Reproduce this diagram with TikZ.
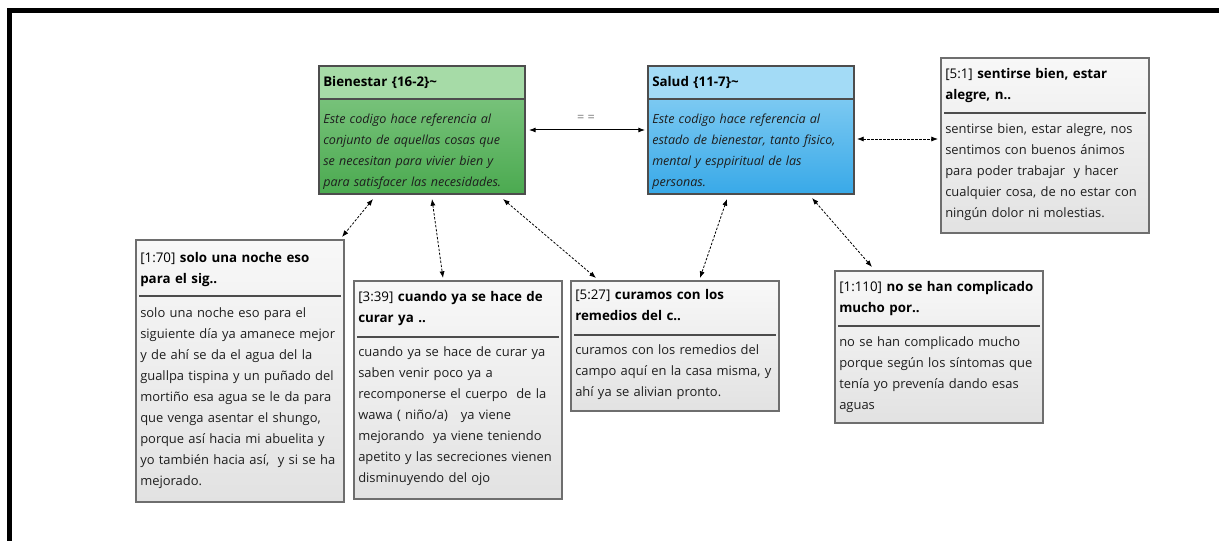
\documentclass[tikz,border=0pt]{standalone}
\usepackage{fontspec}
\setmainfont{Open Sans}
\usetikzlibrary{arrows.meta,calc,fit}
\definecolor{greenhead}{HTML}{A6DBA7}
\definecolor{greentop}{HTML}{86CA88}
\definecolor{greenbot}{HTML}{4BAA50}
\definecolor{bluehead}{HTML}{A3DBF6}
\definecolor{bluetop}{HTML}{93D4F5}
\definecolor{bluebot}{HTML}{38A9E8}
\definecolor{codeborder}{HTML}{4D4D4D}
\definecolor{quoteborder}{HTML}{6E6E6E}
\definecolor{quotetop}{HTML}{F8F8F8}
\definecolor{quotebot}{HTML}{E2E2E2}
\definecolor{textdark}{HTML}{1E1E1E}
\definecolor{eqgray}{HTML}{7A7A7A}
\tikzset{
  boxframe/.style={inner sep=0pt, outer sep=0pt},
  codeline/.style={draw=codeborder, line width=1.1pt},
  quoteline/.style={draw=quoteborder, line width=1.5pt},
  divline/.style={draw=black!70, line width=1.1pt},
  headtext/.style={anchor=north west, inner sep=0pt, align=left, text width=200pt,
    font=\fontsize{10}{15.75}\selectfont\bfseries, text=black},
  bodytext/.style={anchor=north west, inner sep=0pt, align=left, text width=200pt,
    font=\fontsize{9.7}{15.75}\selectfont, text=textdark},
  italtext/.style={anchor=north west, inner sep=0pt, align=left, text width=200pt,
    font=\fontsize{9.4}{15.75}\selectfont\itshape, text=textdark},
  eqlabel/.style={inner sep=0pt, font=\fontsize{9.5}{10}\selectfont, text=eqgray},
  link/.style={{Latex[length=5pt,width=3.8pt]}-{Latex[length=5pt,width=3.8pt]},
    line width=0.6pt, dash pattern=on 1.8pt off 1.2pt},
  solidlink/.style={{Latex[length=5pt,width=3.8pt]}-{Latex[length=5pt,width=3.8pt]},
    line width=0.75pt}
}
\begin{document}
\begin{tikzpicture}[x=0.75pt,y=-0.75pt]
\useasboundingbox (0,0) rectangle (1219,541);
% outer frame (top and left only)
\draw[line width=3.75pt, line join=miter] (9.2,541) -- (9.2,10.5) -- (1219,10.5);

% ---- code box Bienestar
\node[boxframe, fit={(319,66)(525,194)}] (bien) {};
\shade[top color=greentop, bottom color=greenbot] (bien.north west) rectangle (bien.south east);
\fill[greenhead] (bien.north west) rectangle ($(bien.north east)+(0,33)$);
\draw[codeline] (bien.north west) rectangle (bien.south east);
\draw[codeline] ($(bien.north west)+(0,33)$) -- ($(bien.north east)+(0,33)$);
\node[headtext] (bienh) at (323,71.3) {\strut Bienestar \{16-2\}\textasciitilde};
\node[italtext] (bienb) at (323,108.3) {\strut Este codigo hace referencia al\\conjunto de aquellas cosas que\\se necesitan para vivier bien y\\para satisfacer las necesidades.};

% ---- code box Salud
\node[boxframe, fit={(648,66)(854,194)}] (salud) {};
\shade[top color=bluetop, bottom color=bluebot] (salud.north west) rectangle (salud.south east);
\fill[bluehead] (salud.north west) rectangle ($(salud.north east)+(0,33)$);
\draw[codeline] (salud.north west) rectangle (salud.south east);
\draw[codeline] ($(salud.north west)+(0,33)$) -- ($(salud.north east)+(0,33)$);
\node[headtext] (saludh) at (652,71.3) {\strut Salud \{11-7\}\textasciitilde};
\node[italtext] (saludb) at (652,108.3) {\strut Este codigo hace referencia al\\estado de bienestar, tanto fisico,\\mental y esppiritual de las\\personas.};

% ---- quote 5:1
\node[boxframe, fit={(941,58)(1149,233)}] (q51) {};
\shade[top color=quotetop, bottom color=quotebot] (q51.north west) rectangle (q51.south east);
\draw[quoteline] (q51.north west) rectangle (q51.south east);
\draw[divline] ($(q51.north west)+(3,55)$) -- ($(q51.north east)+(-3,55)$);
\node[headtext] (q51h) at (945,63.3) {\strut{\mdseries[5:1]} sentirse bien, estar\\alegre, n..};
\node[bodytext] (q51b) at (945,118.3) {\strut sentirse bien, estar alegre, nos\\sentimos con buenos ánimos\\para poder trabajar\ \ y hacer\\cualquier cosa, de no estar con\\ningún dolor ni molestias.};

% ---- quote 1:70
\node[boxframe, fit={(136,240)(344,502)}] (q170) {};
\shade[top color=quotetop, bottom color=quotebot] (q170.north west) rectangle (q170.south east);
\draw[quoteline] (q170.north west) rectangle (q170.south east);
\draw[divline] ($(q170.north west)+(3,56)$) -- ($(q170.north east)+(-3,56)$);
\node[headtext] (q170h) at (140,247.3) {\strut{\mdseries[1:70]} solo una noche eso\\para el sig..};
\node[bodytext] (q170b) at (140,302.3) {\strut solo una noche eso para el\\siguiente día ya amanece mejor\\y de ahí se da el agua del la\\guallpa tispina y un puñado del\\mortiño esa agua se le da para\\que venga asentar el shungo,\\porque así hacia mi abuelita y\\yo también hacia así,\ \ y si se ha\\mejorado.};

% ---- quote 3:39
\node[boxframe, fit={(354,281)(562,499)}] (q339) {};
\shade[top color=quotetop, bottom color=quotebot] (q339.north west) rectangle (q339.south east);
\draw[quoteline] (q339.north west) rectangle (q339.south east);
\draw[divline] ($(q339.north west)+(3,56)$) -- ($(q339.north east)+(-3,56)$);
\node[headtext] (q339h) at (358,286.3) {\strut{\mdseries[3:39]} cuando ya se hace de\\curar ya ..};
\node[bodytext] (q339b) at (358,341.3) {\strut cuando ya se hace de curar ya\\saben venir poco ya a\\recomponerse el cuerpo\ \ de la\\wawa ( niño/a)\ \ \ ya viene\\mejorando\ \ ya viene teniendo\\apetito y las secreciones vienen\\disminuyendo del ojo};

% ---- quote 5:27
\node[boxframe, fit={(571,281)(779,411)}] (q527) {};
\shade[top color=quotetop, bottom color=quotebot] (q527.north west) rectangle (q527.south east);
\draw[quoteline] (q527.north west) rectangle (q527.south east);
\draw[divline] ($(q527.north west)+(3,54)$) -- ($(q527.north east)+(-3,54)$);
\node[headtext] (q527h) at (575,284.3) {\strut{\mdseries[5:27]} curamos con los\\remedios del c..};
\node[bodytext] (q527b) at (575,339.3) {\strut curamos con los remedios del\\campo aquí en la casa misma, y\\ahí ya se alivian pronto.};

% ---- quote 1:110
\node[boxframe, fit={(835,271)(1043,423)}] (q1110) {};
\shade[top color=quotetop, bottom color=quotebot] (q1110.north west) rectangle (q1110.south east);
\draw[quoteline] (q1110.north west) rectangle (q1110.south east);
\draw[divline] ($(q1110.north west)+(3,55)$) -- ($(q1110.north east)+(-3,55)$);
\node[headtext] (q1110h) at (839,276.3) {\strut{\mdseries[1:110]} no se han complicado\\mucho por..};
\node[bodytext] (q1110b) at (839,331.3) {\strut no se han complicado mucho\\porque según los síntomas que\\tenía yo prevenía dando esas\\aguas};

% ---- connectors
\draw[solidlink] ($(bien.north east)+(4,64)$) -- ($(salud.north west)+(-3,64)$);
\node[eqlabel] (eq) at (586,118) {= =};
\draw[link] ($(salud.north east)+(3,73)$) -- ($(q51.north west)+(-3,81)$);
\draw[link] ($(bien.south west)+(54,5)$) -- ($(q170.north east)+(-2,-3)$);
\draw[link] ($(bien.south west)+(113,5)$) -- ($(q339.north west)+(89,-3)$);
\draw[link] ($(bien.south west)+(184,5)$) -- ($(q527.north west)+(25,-3)$);
\draw[link] ($(salud.south west)+(79,5)$) -- ($(q527.north west)+(129,-3)$);
\draw[link] ($(salud.south west)+(164,4)$) -- ($(q1110.north west)+(37,-4)$);
\end{tikzpicture}
\end{document}
